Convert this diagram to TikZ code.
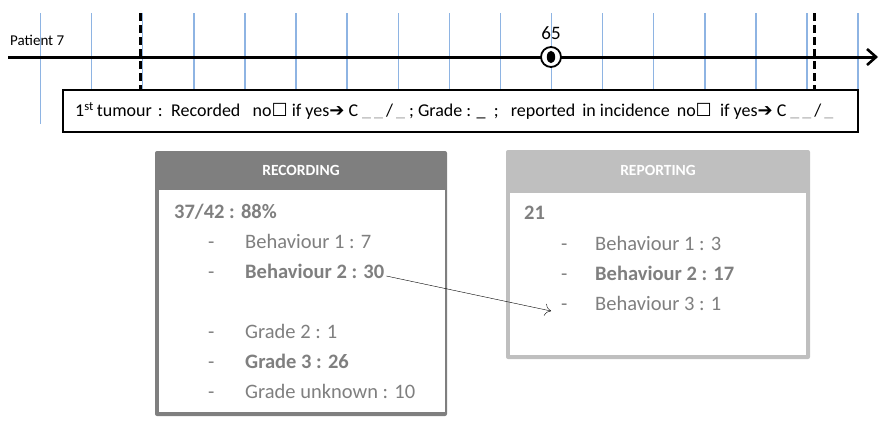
\documentclass[tikz,border=0pt]{standalone}
\usepackage{fontspec}
\setmainfont{Carlito}
\newfontfamily\symfont{DejaVu Sans}
\usetikzlibrary{arrows.meta}

\definecolor{tickblue}{HTML}{8EB4E3}
\definecolor{txtgray}{HTML}{7F7F7F}
\definecolor{recgray}{HTML}{7F7F7F}
\definecolor{repgray}{HTML}{BFBFBF}
\definecolor{blankgray}{HTML}{A6A6A6}

\newcommand{\nobox}{no{\symfont\char"2610}}
\newcommand{\yesarr}{if yes{\symfont\char"2794}}
\newcommand{\blnk}{\textcolor{blankgray}{\_}}

\begin{document}
\begin{tikzpicture}%
	[x=1pt, y=-1pt,
	tick/.style={color=tickblue, line width=1.4pt},
	limit/.style={line width=3pt, dash pattern=on 8pt off 4pt},
	timeline/.style={line width=3pt, -{Straight Barb[length=9pt,width=16pt,line width=2.6pt]}},
	label/.style={inner sep=0pt, font=\fontsize{15}{17}\selectfont},
	head/.style={inner sep=0pt, text=white, font=\fontsize{15.5}{18}\selectfont\bfseries},
	entry/.style={inner sep=0pt, anchor=west, text=txtgray, font=\fontsize{20.5}{24}\selectfont},
	bentry/.style={entry, font=\fontsize{20.5}{24}\selectfont\bfseries},
	link/.style={thin, -{To[length=6pt,width=12pt]}}]
%
\useasboundingbox (0,0) rectangle (887,424);
%
%% Time axis
%%
\foreach \k in {0,...,16}
	\draw[tick] (40.5+51.1*\k,13) -- (40.5+51.1*\k,124);
\coordinate (t0) at (8,57);
\coordinate (t1) at (878,57);
\draw[timeline] (t0) -- (t1);
\draw[limit] (140,13) -- (140,90);
\draw[limit] (814,13) -- (814,90);
\node[label, anchor=west] (patient) at (10,40) {Patient 7};
%
%% Event at age 65
%%
\draw[fill=white, line width=1.8pt] (551,57) circle (10);
\fill (551,57) ellipse (4.2 and 6.2);
\node[label, font=\fontsize{19}{21}\selectfont] (age) at (551,33) {65};
%
%% Questionnaire line
%%
\draw[fill=white, line width=1.5pt] (63,90) rectangle (858,132);
\node[label, anchor=west, font=\fontsize{18}{20}\selectfont] (question) at (75,111)
	{1\textsuperscript{st}\,tumour\,\,: \,Recorded \ \ \nobox\ \yesarr\ C \blnk\,\blnk\,/\,\blnk\ ; Grade : \_ \ ; \ \ reported \,in incidence \,\nobox \ \ \yesarr\ C \blnk\,\blnk\,/\,\blnk};
%
%% Recording panel
%%
\fill[recgray, rounded corners=2pt] (155,151) rectangle (447,416);
\fill[white] (159,190) rectangle (445,412);
\node[head] (rechead) at (301,170) {RECORDING};
\node[bentry] (rtot) at (174,212) {37/42 : 88\%};
\node[entry] (rd1) at (208,245) {-};
\node[entry] (rb1) at (245,241) {Behaviour 1 : 7};
\node[entry] (rd2) at (208,275) {-};
\node[bentry] (rb2) at (245,271) {Behaviour 2 : 30};
\node[entry] (rd3) at (208,335) {-};
\node[entry] (rg2) at (245,331) {Grade 2 : 1};
\node[entry] (rd4) at (208,365) {-};
\node[bentry] (rg3) at (245,361) {Grade 3 : 26};
\node[entry] (rd5) at (208,395) {-};
\node[entry] (rgu) at (245,391) {Grade unknown : 10};
%
%% Reporting panel
%%
\fill[repgray, rounded corners=2pt] (506,150) rectangle (810,359);
\fill[white] (510,193) rectangle (806,355);
\node[head] (rephead) at (658,170) {REPORTING};
\node[bentry] (ptot) at (524,213) {21};
\node[entry] (pd1) at (561,247) {-};
\node[entry] (pb1) at (595,243) {Behaviour 1 : 3};
\node[entry] (pd2) at (561,277) {-};
\node[bentry] (pb2) at (595,273) {Behaviour 2 : 17};
\node[entry] (pd3) at (561,307) {-};
\node[entry] (pb3) at (595,303) {Behaviour 3 : 1};
%
\draw[link] ([xshift=2pt,yshift=-5pt]rb2.east) -- ([xshift=-10pt,yshift=-4pt]pd3.west);
%%
\end{tikzpicture}
\end{document}
